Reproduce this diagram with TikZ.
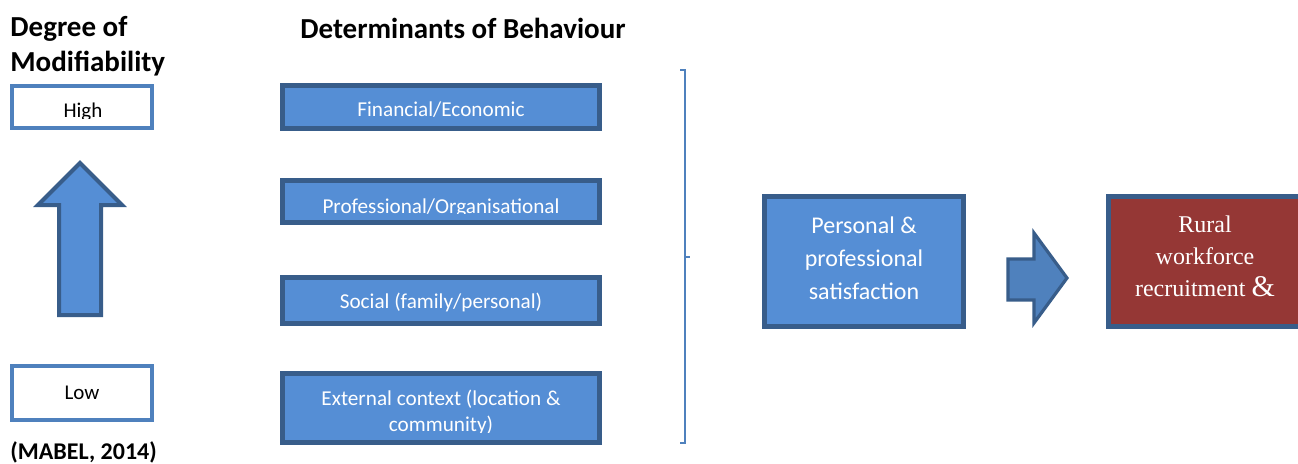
\documentclass[tikz,border=0pt]{standalone}
\usepackage{fontspec}
\setmainfont{Carlito}
\newfontfamily\serifface{Liberation Serif}
\usetikzlibrary{positioning}
\definecolor{boxblue}{RGB}{85,142,213}
\definecolor{boxedge}{RGB}{56,93,138}
\definecolor{lineblue}{RGB}{79,129,189}
\definecolor{arrowblue}{RGB}{79,129,189}
\definecolor{ruralred}{RGB}{149,55,53}
\tikzset{
	headtext/.style={font=\fontsize{14.5}{17.5}\selectfont\bfseries, align=left, inner sep=0pt}
}
\tikzset{
	levelbox/.style={draw=lineblue, line width=2pt, fill=white, minimum width=70pt,
		inner sep=0pt, font=\fontsize{10.5}{12}\selectfont}
}
\tikzset{
	detbox/.style={draw=boxedge, line width=2.5pt, fill=boxblue,
		minimum width=158.5pt, inner sep=0pt}
}
\tikzset{
	detlabel/.style={text=white, inner sep=0pt, align=center, anchor=base,
		font=\fontsize{10.6}{13}\selectfont}
}
\tikzset{
	bigbox/.style={draw=boxedge, line width=2.5pt, minimum width=99.5pt,
		minimum height=65pt, inner sep=0pt}
}

\begin{document}
\begin{tikzpicture}[x=0.5pt, y=-0.5pt]
      \useasboundingbox (0,0) rectangle (1298,463);

      % left column: how far each determinant can be changed
      \node[headtext, anchor=north west] (deg) at (10,16) {Degree of\\Modifiability};
      \node[levelbox, minimum height=21pt] (high) at (82,107) {};
      \node[levelbox, minimum height=27pt] (low) at (82,393) {Low};
      \node[headtext, anchor=base west, font=\fontsize{12}{14}\selectfont\bfseries]
        (mabel) at (10,459) {(MABEL, 2014)};
      \begin{scope}
        \clip (14,88) rectangle (150,118.5);
        \node[anchor=base, font=\fontsize{10.5}{12}\selectfont] (hightext) at (83,117) {High};
      \end{scope}
      \draw[draw=boxedge, line width=2pt, fill=boxblue, line join=miter]
        (59,315) -- (59,205) -- (38,205) -- (80,163) -- (122,205)
        -- (101,205) -- (101,315) -- cycle;

      % middle column: the four determinants
      \node[headtext, anchor=base] (det) at (463,38) {Determinants of Behaviour};
      \node[detbox, minimum height=21.5pt] (fin) at (441,107) {};
      \node[detbox, minimum height=21pt] (prof) at (441,201.5) {};
      \node[detbox, minimum height=23pt] (soc) at (441,300.5) {};
      \node[detbox, minimum height=34.5pt] (ext) at (441,408) {};
      \node[detlabel] (fintext) at (441,116.5) {Financial/Economic};
      \node[detlabel] (soctext) at (441,308.5) {Social (family/personal)};
      \begin{scope}
        \clip (285,182) rectangle (597,213);
        \node[detlabel] (proftext) at (441,213) {Professional/Organisational};
      \end{scope}
      \begin{scope}
        \clip (285,376) rectangle (597,432);
        \node[detlabel] (exttext1) at (441,405) {External context (location \&};
        \node[detlabel] (exttext2) at (441,431) {community)};
      \end{scope}

      % bracket gathering the determinants
      \draw[lineblue, line width=1.1pt] (680,70) -- (685,70) -- (685,443) -- (680,443);
      \draw[lineblue, line width=1.1pt] (685,257) -- (690,257);

      % outcome side
      \node[bigbox, fill=boxblue] (pers) at (864,261.5) {};
      \node[text=white, align=center, font=\fontsize{12}{16.5}\selectfont] (perstext)
        at ([yshift=1.5pt]pers.center) {Personal \&\\professional\\satisfaction};
      \draw[draw=boxedge, line width=1.6pt, fill=arrowblue, line join=miter]
        (1008,259) -- (1034,259) -- (1034,233) -- (1067,278) -- (1034,323)
        -- (1034,300) -- (1008,300) -- cycle;
      \node[bigbox, fill=ruralred] (rural) at (1208,261.5) {};
      \node[text=white, align=center, font=\serifface\fontsize{12}{16}\selectfont]
        (ruraltext) at ([xshift=-1.5pt, yshift=2.5pt]rural.center)
        {Rural\\workforce\\recruitment {\fontsize{15}{16}\selectfont\&}};
\end{tikzpicture}
\end{document}
